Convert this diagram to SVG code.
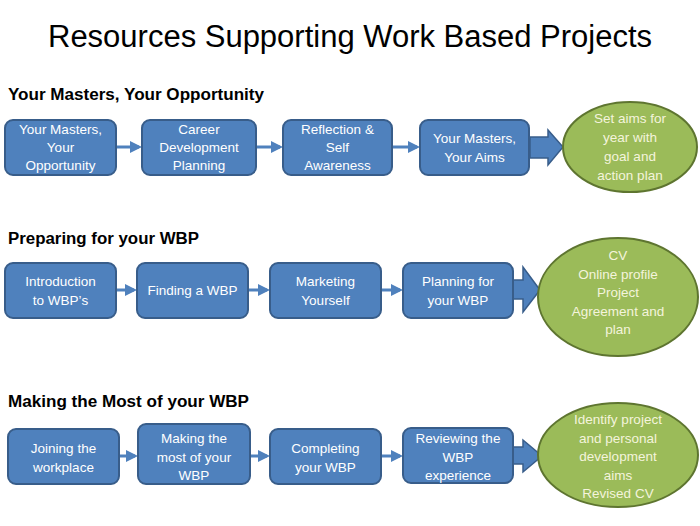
<svg xmlns="http://www.w3.org/2000/svg" width="700" height="526" viewBox="0 0 700 526">
<style>
.box{fill:#4f81bd;stroke:#385d8a;stroke-width:2}
.ell{fill:#9bbb59;stroke:#5e7530;stroke-width:2}
.bt{font-family:"Liberation Sans",Arial,sans-serif;font-size:13.5px;fill:#ffffff;text-anchor:middle}
.et{font-family:"Liberation Sans",Arial,sans-serif;font-size:13.5px;fill:#f4f4dc;text-anchor:middle}
.hd{font-family:"Liberation Sans",Arial,sans-serif;font-size:16px;font-weight:bold;fill:#000}
.ttl{font-family:"Liberation Sans",Arial,sans-serif;font-size:31px;fill:#000;text-anchor:middle}
.ln{stroke:#4f81bd;stroke-width:3;fill:none;marker-end:url(#ah)}
.blk{fill:#4f81bd;stroke:#385d8a;stroke-width:1.5}
</style>
<defs>
<marker id="ah" markerWidth="4" markerHeight="4" refX="3" refY="2" orient="auto" markerUnits="strokeWidth">
<path d="M0,0 L4,2 L0,4 Z" fill="#4f81bd"/>
</marker>
</defs>
<rect width="700" height="526" fill="#ffffff"/>
<text class="ttl" x="350" y="47" textLength="604" lengthAdjust="spacingAndGlyphs">Resources Supporting Work Based Projects</text>
<text class="hd" x="8" y="100" textLength="256" lengthAdjust="spacingAndGlyphs">Your Masters, Your Opportunity</text>
<text class="hd" x="8" y="244" textLength="191" lengthAdjust="spacingAndGlyphs">Preparing for your WBP</text>
<text class="hd" x="8" y="407" textLength="241" lengthAdjust="spacingAndGlyphs">Making the Most of your WBP</text>

<g id="connectors">
<line class="ln" x1="116" y1="147" x2="139" y2="147"/>
<line class="ln" x1="256" y1="147" x2="280" y2="147"/>
<line class="ln" x1="392" y1="147" x2="417" y2="147"/>
<polygon class="blk" points="530,137 548,137 548,130 563,147 548,165 548,158 530,158"/>
<line class="ln" x1="116" y1="290" x2="134" y2="290"/>
<line class="ln" x1="248" y1="290" x2="267" y2="290"/>
<line class="ln" x1="381" y1="290" x2="400" y2="290"/>
<polygon class="blk" points="513,280 523,280 523,267 540,290 523,312 523,299 513,299"/>
<line class="ln" x1="119" y1="456" x2="135" y2="456"/>
<line class="ln" x1="250" y1="456" x2="267" y2="456"/>
<line class="ln" x1="381" y1="456" x2="400" y2="456"/>
<polygon class="blk" points="513,447 523,447 523,440 542,456 523,472 523,464 513,464"/>
</g>

<g id="r1b1"><rect class="box" x="5" y="120" width="111" height="55" rx="8"/>
<text class="bt" x="60.5" y="133.5">Your Masters,</text><text class="bt" x="60.5" y="152">Your</text><text class="bt" x="60.5" y="170">Opportunity</text></g>
<g id="r1b2"><rect class="box" x="142" y="120" width="114" height="55" rx="8"/>
<text class="bt" x="199" y="133.5">Career</text><text class="bt" x="199" y="152">Development</text><text class="bt" x="199" y="170">Planning</text></g>
<g id="r1b3"><rect class="box" x="283" y="120" width="109" height="55" rx="8"/>
<text class="bt" x="337.5" y="133.5">Reflection &amp;</text><text class="bt" x="337.5" y="152">Self</text><text class="bt" x="337.5" y="170">Awareness</text></g>
<g id="r1b4"><rect class="box" x="420" y="120" width="109" height="55" rx="8"/>
<text class="bt" x="474.5" y="142.5">Your Masters,</text><text class="bt" x="474.5" y="161.5">Your Aims</text></g>
<g id="r1e"><ellipse class="ell" cx="630" cy="147" rx="67" ry="45"/>
<text class="et" x="630" y="122.5">Set aims for</text><text class="et" x="630" y="141.5">year with</text><text class="et" x="630" y="160.5">goal and</text><text class="et" x="630" y="179.5">action plan</text></g>

<g id="r2b1"><rect class="box" x="5" y="263" width="111" height="55" rx="8"/>
<text class="bt" x="60.5" y="285.5">Introduction</text><text class="bt" x="60.5" y="304.5">to WBP’s</text></g>
<g id="r2b2"><rect class="box" x="137" y="263" width="111" height="55" rx="8"/>
<text class="bt" x="192.5" y="294.5">Finding a WBP</text></g>
<g id="r2b3"><rect class="box" x="270" y="263" width="111" height="55" rx="8"/>
<text class="bt" x="325.5" y="285.5">Marketing</text><text class="bt" x="325.5" y="304.5">Yourself</text></g>
<g id="r2b4"><rect class="box" x="403" y="263" width="110" height="55" rx="8"/>
<text class="bt" x="458" y="285.5">Planning for</text><text class="bt" x="458" y="304.5">your WBP</text></g>
<g id="r2e"><ellipse class="ell" cx="618" cy="297" rx="80" ry="59"/>
<text class="et" x="618" y="259.5">CV</text><text class="et" x="618" y="278.5">Online profile</text><text class="et" x="618" y="296.5">Project</text><text class="et" x="618" y="315.5">Agreement  and</text><text class="et" x="618" y="333.5">plan</text></g>

<g id="r3b1"><rect class="box" x="8" y="429" width="111" height="55" rx="8"/>
<text class="bt" x="63.5" y="452.5">Joining the</text><text class="bt" x="63.5" y="471.5">workplace</text></g>
<g id="r3b2"><rect class="box" x="138" y="424" width="112" height="60" rx="8"/>
<text class="bt" x="194" y="442.5">Making the</text><text class="bt" x="194" y="461.5">most of your</text><text class="bt" x="194" y="479.5">WBP</text></g>
<g id="r3b3"><rect class="box" x="270" y="429" width="111" height="55" rx="8"/>
<text class="bt" x="325.5" y="452.5">Completing</text><text class="bt" x="325.5" y="471.5">your WBP</text></g>
<g id="r3b4"><rect class="box" x="403" y="428" width="110" height="55" rx="8"/>
<text class="bt" x="458" y="442.5">Reviewing the</text><text class="bt" x="458" y="461.5">WBP</text><text class="bt" x="458" y="479.5">experience</text></g>
<g id="r3e"><ellipse class="ell" cx="618" cy="455" rx="80" ry="52"/>
<text class="et" x="618" y="423.5">Identify project</text><text class="et" x="618" y="442.5">and personal</text><text class="et" x="618" y="460.5">development</text><text class="et" x="618" y="479.5">aims</text><text class="et" x="618" y="497.5">Revised CV</text></g>
</svg>
